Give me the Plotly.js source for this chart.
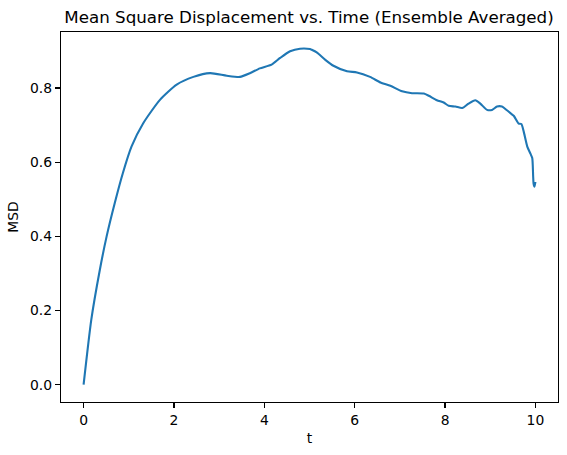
<!DOCTYPE html>
<html>
<head>
<meta charset="utf-8">
<script src="https://cdn.plot.ly/plotly-3.0.1.min.js"></script>
<style>html,body{margin:0;padding:0;background:#fff;}#chart{width:567px;height:455px;}</style>
</head>
<body>
<div id="chart"></div>
<script>
const tValues = [0, 0.17, 0.36, 0.51, 0.69, 0.87, 1.06, 1.32, 1.69, 2.06, 2.43, 2.80, 3.17, 3.46, 3.68, 3.90, 4.16, 4.35, 4.57, 4.79, 5.01, 5.05, 5.16, 5.35, 5.53, 5.83, 6.05, 6.34, 6.57, 6.79, 7.05, 7.27, 7.53, 7.64, 7.82, 7.97, 8.08, 8.23, 8.38, 8.52, 8.67, 8.78, 8.93, 9.04, 9.15, 9.26, 9.37, 9.52, 9.63, 9.69, 9.74, 9.82, 9.89, 9.93, 9.95, 9.96, 9.98, 10.0];
const msdValues = [0, 0.175, 0.310, 0.400, 0.490, 0.571, 0.642, 0.705, 0.768, 0.809, 0.830, 0.840, 0.833, 0.830, 0.840, 0.853, 0.863, 0.881, 0.899, 0.906, 0.905, 0.903, 0.896, 0.876, 0.860, 0.845, 0.842, 0.830, 0.815, 0.806, 0.791, 0.786, 0.785, 0.779, 0.767, 0.761, 0.752, 0.750, 0.746, 0.758, 0.767, 0.758, 0.741, 0.741, 0.750, 0.750, 0.740, 0.725, 0.704, 0.703, 0.683, 0.642, 0.623, 0.611, 0.562, 0.542, 0.534, 0.547];
const xTicks = [0, 2, 4, 6, 8, 10];
const yTicks = [0.0, 0.2, 0.4, 0.6, 0.8];
const yTickText = ["0.0", "0.2", "0.4", "0.6", "0.8"];
const titleText = "Mean Square Displacement vs. Time (Ensemble Averaged)";

const font = {family: "DejaVu Sans, sans-serif", size: 13.9, color: "#000"};
const axisCommon = {
  showgrid: false, zeroline: false, showline: true, mirror: true,
  linecolor: "#000", linewidth: 1.1, ticks: "outside", ticklen: 5, tickwidth: 1.1,
  tickcolor: "#000", tickfont: font
};
Plotly.newPlot("chart", [{
  x: tValues, y: msdValues, type: "scatter", mode: "lines",
  line: {color: "#1f77b4", width: 2.1, shape: "spline", smoothing: 0.6}
}], {
  width: 567, height: 455,
  margin: {l: 61, r: 9, t: 32, b: 53},
  paper_bgcolor: "#fff", plot_bgcolor: "#fff",
  font: font,
  showlegend: false,
  title: {text: titleText, font: {family: "DejaVu Sans, sans-serif", size: 16.7, color: "#000"}, x: 0.545, xanchor: "center", y: 0.962, yanchor: "middle"},
  xaxis: Object.assign({}, axisCommon, {range: [-0.5, 10.5], tickvals: xTicks, ticktext: xTicks.map(String), title: {text: "t", font: font, standoff: 6}}),
  yaxis: Object.assign({}, axisCommon, {range: [-0.0466, 0.951], tickvals: yTicks, ticktext: yTickText, title: {text: "MSD", font: font, standoff: 8}})
}, {displayModeBar: false, staticPlot: true});
</script>
</body>
</html>
